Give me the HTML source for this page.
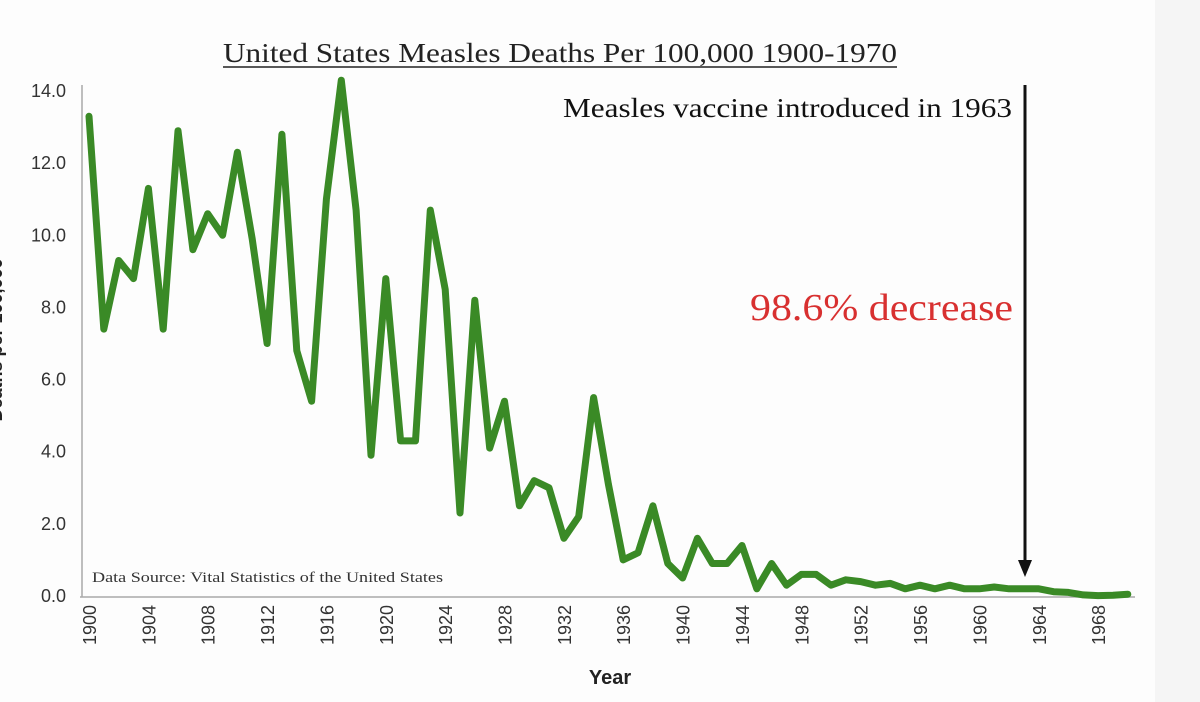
<!DOCTYPE html>
<html><head><meta charset="utf-8"><style>
html,body{margin:0;padding:0;background:#fff;}
svg{display:block;}
</style></head><body>
<svg id="chart" width="1200" height="702" viewBox="0 0 1200 702" xmlns="http://www.w3.org/2000/svg">
<rect x="0" y="0" width="1200" height="702" fill="#fdfdfd"/>
<rect x="1155" y="0" width="45" height="702" fill="#f5f5f5"/>
<text x="223" y="62" textLength="674" lengthAdjust="spacingAndGlyphs" font-family="Liberation Serif, serif" font-size="27" fill="#222">United States Measles Deaths Per 100,000 1900-1970</text>
<line x1="223" y1="67" x2="897" y2="67" stroke="#222" stroke-width="1.5"/>
<g id="yticks"></g>
<g id="xticks"></g>
<line x1="82" y1="85" x2="82" y2="597" stroke="#aaa" stroke-width="1.5"/>
<line x1="80" y1="597" x2="1135" y2="597" stroke="#aaa" stroke-width="1.5"/>
<text x="92" y="582" textLength="351" lengthAdjust="spacingAndGlyphs" font-family="Liberation Serif, serif" font-size="15" fill="#333">Data Source:  Vital Statistics of the United States</text>
<text x="610" y="684" text-anchor="middle" font-family="Liberation Sans, sans-serif" font-size="20" font-weight="bold" fill="#222">Year</text>
<text x="-340" y="2" transform="rotate(-90)" text-anchor="middle" font-family="Liberation Sans, sans-serif" font-size="18" font-weight="bold" fill="#222">Deaths per 100,000</text>
<path id="series" fill="none" stroke="#3a8a26" stroke-width="7" stroke-linejoin="round" stroke-linecap="round"/>
<text x="563" y="117" textLength="449" lengthAdjust="spacingAndGlyphs" font-family="Liberation Serif, serif" font-size="27" fill="#111">Measles vaccine introduced in 1963</text>
<text x="750" y="320" textLength="263" lengthAdjust="spacingAndGlyphs" font-family="Liberation Serif, serif" font-size="38" fill="#d83030">98.6% decrease</text>
<line x1="1025" y1="85" x2="1025" y2="560" stroke="#111" stroke-width="3"/>
<polygon points="1018,560 1032,560 1025,577" fill="#111"/>
</svg>
<script>
const years = [];
for (let y = 1900; y <= 1970; y++) years.push(y);
const deaths = [13.3,7.4,9.3,8.8,11.3,7.4,12.9,9.6,10.6,10.0,12.3,9.9,7.0,12.8,6.8,5.4,11.0,14.3,10.7,3.9,8.8,4.3,4.3,10.7,8.5,2.3,8.2,4.1,5.4,2.5,3.2,3.0,1.6,2.2,5.5,3.1,1.0,1.2,2.5,0.9,0.5,1.6,0.9,0.9,1.4,0.2,0.9,0.3,0.6,0.6,0.3,0.45,0.4,0.3,0.35,0.2,0.3,0.2,0.3,0.2,0.2,0.25,0.2,0.2,0.2,0.12,0.1,0.03,0.01,0.02,0.05];
const yTicks = [0,2,4,6,8,10,12,14];
const xTickYears = [1900,1904,1908,1912,1916,1920,1924,1928,1932,1936,1940,1944,1948,1952,1956,1960,1964,1968];
const NS = "http://www.w3.org/2000/svg";
function xs(y){ return 89 + (y-1900)*14.84; }
function ys(v){ return 596 - v*36.07; }
const yg = document.getElementById('yticks');
yTicks.forEach(v=>{
  const t = document.createElementNS(NS,'text');
  t.setAttribute('x',66); t.setAttribute('y',ys(v)+6);
  t.setAttribute('text-anchor','end');
  t.setAttribute('font-family','Liberation Sans, sans-serif');
  t.setAttribute('font-size','18'); t.setAttribute('fill','#333');
  t.textContent = v.toFixed(1);
  
  
  yg.appendChild(t);
});
const xg = document.getElementById('xticks');
xTickYears.forEach(yr=>{
  const t = document.createElementNS(NS,'text');
  const x = xs(yr)+7, y = 605;
  t.setAttribute('x',x); t.setAttribute('y',y);
  t.setAttribute('transform','rotate(-90 '+x+' '+y+')');
  t.setAttribute('text-anchor','end');
  t.setAttribute('font-family','Liberation Sans, sans-serif');
  t.setAttribute('font-size','18'); t.setAttribute('fill','#333');
  t.textContent = yr;
  
  
  xg.appendChild(t);
});
let d = '';
years.forEach((yr,i)=>{ d += (i?'L':'M') + xs(yr).toFixed(1) + ' ' + ys(deaths[i]).toFixed(1) + ' '; });
document.getElementById('series').setAttribute('d', d);
</script>
</body></html>
